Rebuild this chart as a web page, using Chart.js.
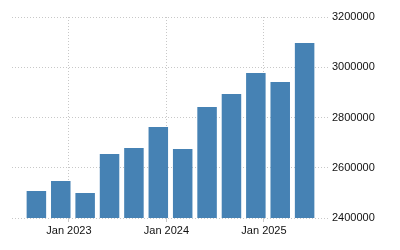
<!DOCTYPE html>
<html>
<head>
<meta charset="utf-8">
<script src="https://cdn.jsdelivr.net/npm/chart.js@4/dist/chart.umd.min.js"></script>
<style>
  html, body { margin: 0; padding: 0; background: #fff; }
  #wrap { width: 400px; height: 250px; position: relative; }
</style>
</head>
<body>
<div id="wrap"><canvas id="c" width="400" height="250"></canvas></div>
<script>
const categories = ['2022-09','2022-12','2023-03','2023-06','2023-09','2023-12','2024-03','2024-06','2024-09','2024-12','2025-03','2025-06'];
const values = [2507000, 2547000, 2500000, 2655000, 2679000, 2762000, 2675000, 2842000, 2894000, 2977000, 2941000, 3097000];
const tickDates = ['2023-01','2024-01','2025-01'];
const tickLabels = ['Jan 2023','Jan 2024','Jan 2025'];
const yTicks = [2400000, 2600000, 2800000, 3000000, 3200000];

function monthIndex(s) {
  const p = s.split('-');
  return (parseInt(p[0], 10) - 2022) * 12 + (parseInt(p[1], 10) - 1);
}
const points = categories.map((c, i) => ({ x: monthIndex(c), y: values[i] }));
const tickPos = tickDates.map(monthIndex);
const xMin = monthIndex(categories[0]) - 3;
const xMax = monthIndex(categories[categories.length - 1]) + 3;

const gridColor = '#c8c8c8';
const font = { family: 'Liberation Sans, Arial, sans-serif', size: 11 };

new Chart(document.getElementById('c'), {
  type: 'bar',
  data: {
    datasets: [{
      data: points,
      backgroundColor: '#4682b4',
      borderWidth: 0,
      barPercentage: 0.8,
      categoryPercentage: 1.0
    }]
  },
  options: {
    responsive: false,
    animation: false,
    devicePixelRatio: 1,
    layout: { padding: { left: 12, top: 17, right: 0, bottom: 0 } },
    plugins: { legend: { display: false }, tooltip: { enabled: false } },
    scales: {
      x: {
        type: 'linear',
        offset: false,
        min: xMin,
        max: xMax,
        afterBuildTicks: (s) => { s.ticks = tickPos.map(v => ({ value: v })); },
        afterFit: (s) => { s.height = 32; },
        ticks: {
          autoSkip: false,
          maxRotation: 0,
          padding: 2,
          color: '#111',
          font: font,
          callback: (v) => { const i = tickPos.indexOf(v); return i >= 0 ? tickLabels[i] : ''; }
        },
        grid: { offset: false, color: gridColor, tickLength: 4, drawTicks: true },
        border: { display: false, dash: [1, 2] }
      },
      y: {
        position: 'right',
        min: yTicks[0],
        max: yTicks[yTicks.length - 1],
        afterBuildTicks: (s) => { s.ticks = yTicks.map(v => ({ value: v })); },
        afterFit: (s) => { s.width = 71; },
        ticks: {
          padding: 3,
          color: '#111',
          font: font,
          callback: (v) => String(v)
        },
        grid: { color: gridColor, drawTicks: false },
        border: { display: false, dash: [1, 2] }
      }
    }
  }
});
</script>
</body>
</html>
